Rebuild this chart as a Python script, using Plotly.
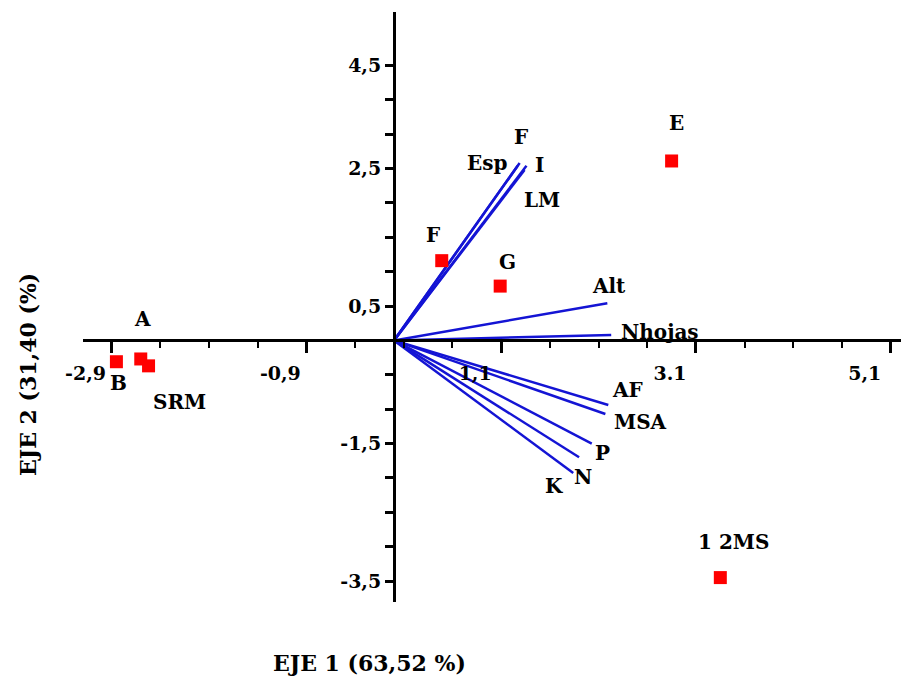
import plotly.graph_objects as go

# Sample scores (red squares)
sample_names = ["A", "B", "SRM", "F", "G", "E", "1 2MS"]
sample_x = [-2.60, -2.85, -2.52, 0.49, 1.09, 2.85, 3.35]
sample_y = [-0.27, -0.31, -0.37, 1.16, 0.79, 2.61, -3.45]

# Variable loadings (blue vectors from the origin)
var_names = ["F", "Esp", "I", "LM", "Alt", "Nhojas", "AF", "MSA", "P", "N", "K"]
var_x = [1.29, 1.27, 1.36, 1.34, 2.19, 2.23, 2.20, 2.17, 2.03, 1.90, 1.84]
var_y = [2.58, 2.54, 2.54, 2.48, 0.54, 0.08, -0.94, -1.07, -1.50, -1.70, -1.93]

# Axis ticks
x_major = [-2.9, -0.9, 1.1, 3.1, 5.1]
x_major_text = ["-2,9", "-0,9", "1,1", "3.1", "5,1"]
y_ticks = [-3.5, -3.0, -2.5, -2.0, -1.5, -1.0, -0.5, 0.0, 0.5, 1.0, 1.5, 2.0, 2.5, 3.0, 3.5, 4.0]
y_tick_text = ["-3,5", "", "", "", "-1,5", "", "", "", "0,5", "", "", "", "2,5", "", "", "4,5"]

x_title = "EJE 1 (63,52 %)"
y_title = "EJE 2 (31,40 (%)"

# label offsets in pixels (dx right, dy down)
sample_off = [(2, -40), (2, 21), (31, 36), (-9, -26), (7, -24), (5, -38), (13, -36)]
var_off = [(1, -26), (-30, -3), (13, -1), (17, 30), (2, -17), (49, -3),
           (19, -15), (35, 8), (11, 9), (4, 20), (-19, 13)]

FONT = "DejaVu Serif"
BLUE = "#1414d4"

x_range = [-3.193, 5.205]
y_range = [-3.805, 4.777]

fig = go.Figure()

for n, vx, vy in zip(var_names, var_x, var_y):
    fig.add_trace(go.Scatter(x=[0, vx], y=[0, vy], mode="lines",
                             line=dict(color=BLUE, width=2.5),
                             hoverinfo="skip", showlegend=False))

fig.add_trace(go.Scatter(x=sample_x, y=sample_y, mode="markers",
                         marker=dict(symbol="square", size=13, color="#ff0000",
                                     line=dict(width=0)),
                         text=sample_names, showlegend=False))

annots = []
lab_font = dict(family=FONT, size=20, color="#000000", weight="bold")
for n, px, py, (dx, dy) in zip(sample_names, sample_x, sample_y, sample_off):
    annots.append(dict(x=px, y=py, text=n, showarrow=False, xshift=dx, yshift=-dy,
                       font=lab_font, xanchor="center", yanchor="middle"))
for n, px, py, (dx, dy) in zip(var_names, var_x, var_y, var_off):
    annots.append(dict(x=px, y=py, text=n, showarrow=False, xshift=dx, yshift=-dy,
                       font=lab_font, xanchor="center", yanchor="middle"))

title_font = dict(family=FONT, size=22, color="#000000", weight="bold")
annots.append(dict(xref="paper", yref="paper", x=(369 - 83) / 818, y=-(663 - 602) / 590,
                   text=x_title, showarrow=False, font=title_font,
                   xanchor="center", yanchor="middle"))
annots.append(dict(xref="paper", yref="paper", x=-(83 - 28) / 818, y=(602 - 375) / 590,
                   text=y_title, showarrow=False, textangle=-90, font=title_font,
                   xanchor="center", yanchor="middle"))

x_pos = (0 - y_range[0]) / (y_range[1] - y_range[0])
y_pos = (0 - x_range[0]) / (x_range[1] - x_range[0])

tick_font = dict(family=FONT, size=19, color="#000000", weight="bold")

fig.update_layout(
    width=901, height=682,
    margin=dict(l=83, r=0, t=12, b=80),
    paper_bgcolor="white", plot_bgcolor="white",
    annotations=annots,
    xaxis=dict(range=x_range, anchor="free", position=x_pos,
               showgrid=False, zeroline=False, showline=True, linecolor="black", linewidth=3,
               tickmode="array", tickvals=x_major, ticktext=x_major_text,
               ticks="outside", ticklen=11, tickwidth=3, tickcolor="black",
               ticklabelshift=-26, ticklabelstandoff=4, tickfont=tick_font,
               minor=dict(tick0=-2.9, dtick=0.5, ticks="outside", ticklen=6,
                          tickwidth=2, tickcolor="black", showgrid=False)),
    yaxis=dict(range=y_range, anchor="free", position=y_pos,
               showgrid=False, zeroline=False, showline=True, linecolor="black", linewidth=3,
               tickmode="array", tickvals=y_ticks, ticktext=y_tick_text,
               ticks="outside", ticklen=8, tickwidth=3, tickcolor="black",
               tickfont=tick_font),
)

fig.write_html("out.html")
